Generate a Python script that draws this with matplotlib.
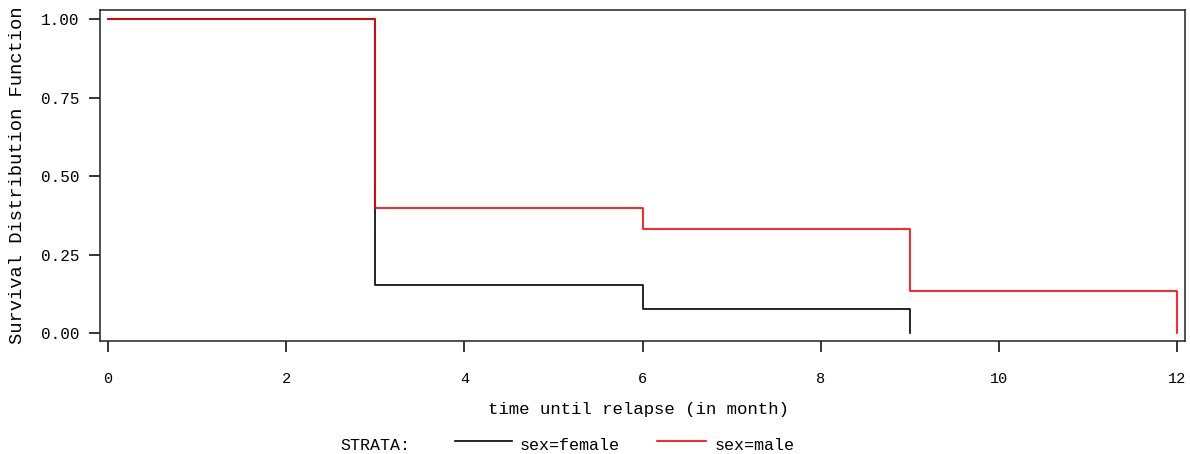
import matplotlib
matplotlib.use("Agg")
import matplotlib.pyplot as plt
from matplotlib.lines import Line2D

# Data
female_time = [0, 3, 6, 9]
female_surv = [1.0, 0.1538, 0.0769, 0.0]
male_time = [0, 3, 6, 9, 12]
male_surv = [1.0, 0.40, 0.333, 0.133, 0.0]
x_ticks = [0, 2, 4, 6, 8, 10, 12]
y_ticks = [0.00, 0.25, 0.50, 0.75, 1.00]
strata_labels = ["sex=female", "sex=male"]
strata_colors = ["#000000", "#ff0000"]

W, H = 1190, 454
fig = plt.figure(figsize=(W / 100, H / 100), dpi=100)
ax = fig.add_axes([100 / W, 1 - 341 / H, (1185 - 100) / W, (341 - 10) / H])

ax.step(female_time, female_surv, where="post", color=strata_colors[0], lw=1.2)
ax.step(male_time, male_surv, where="post", color=strata_colors[1], lw=1.2)

ax.set_xlim(-0.09, 12.09)
ax.set_ylim(-0.025, 1.029)
ax.set_xticks(x_ticks)
ax.set_xticklabels([str(v) for v in x_ticks])
ax.set_yticks(y_ticks)
ax.set_yticklabels([f"{v:.2f}" for v in y_ticks])

font = ["Liberation Mono", "DejaVu Sans Mono"]
ax.tick_params(axis="x", direction="out", length=8, width=1.1, pad=14,
               labelsize=11, colors="#000000")
ax.tick_params(axis="y", direction="out", length=8, width=1.1, pad=7,
               labelsize=11.5, colors="#000000")
for lab in ax.get_xticklabels() + ax.get_yticklabels():
    lab.set_family(font)
for sp in ax.spines.values():
    sp.set_linewidth(1.1)
    sp.set_color("#222222")

ax.set_xlabel("time until relapse (in month)", family=font, fontsize=12.5)
ax.xaxis.set_label_coords((638 - 100) / (1185 - 100), -(402 - 341) / (341 - 10))
ax.set_ylabel("Survival Distribution Function", family=font, fontsize=13.5)
ax.yaxis.set_label_coords(-(100 - 26) / (1185 - 100), 0.5)

# Legend row
ly = 1 - 446 / H
fig.text(340 / W, ly, "STRATA:", family=font, fontsize=12, va="center", ha="left")
fig.add_artist(Line2D([455 / W, 512 / W], [1 - 441 / H] * 2, color=strata_colors[0], lw=1.2))
fig.text(520 / W, ly, strata_labels[0], family=font, fontsize=12, va="center", ha="left")
fig.add_artist(Line2D([657 / W, 706 / W], [1 - 441 / H] * 2, color=strata_colors[1], lw=1.2))
fig.text(715 / W, ly, strata_labels[1], family=font, fontsize=12, va="center", ha="left")

fig.savefig("out.png", dpi=100)
